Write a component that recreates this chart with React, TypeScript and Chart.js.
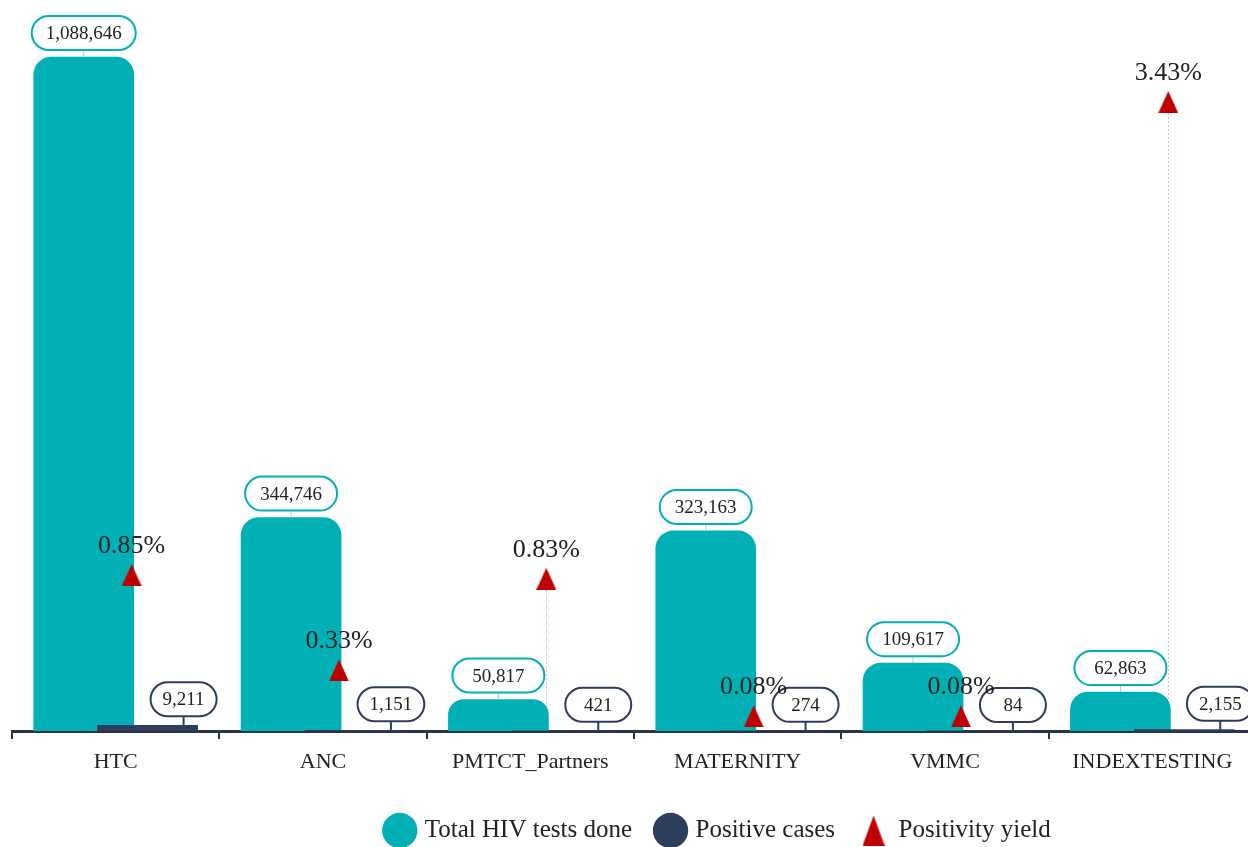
import React, { useEffect, useRef } from "react";
import { Chart, registerables } from "chart.js";

Chart.register(...registerables);

const categories = ["HTC", "ANC", "PMTCT_Partners", "MATERNITY", "VMMC", "INDEXTESTING"];
const totalTests = [1088646, 344746, 50817, 323163, 109617, 62863];
const positiveCases = [9211, 1151, 421, 274, 84, 2155];
const positivityYield = [0.85, 0.33, 0.83, 0.08, 0.08, 3.43];

const TEAL = "#00b0b5";
const NAVY = "#2c3e5c";
const RED = "#c00000";
const AXIS = "#2b3547";
const TEXT = "#222222";
const FONT = '"Liberation Serif", "Times New Roman", serif';

// horizontal placement of each series inside a category (in category units)
const TEAL_SHIFT = -0.154;
const NAVY_SHIFT = 0.154;
const TRI_SHIFT = 0.077;

const CANVAS_W = 1438;
const CANVAS_H = 853;

function makeTriangle(w: number, h: number) {
  const c = document.createElement("canvas");
  c.width = w;
  c.height = h;
  const ctx = c.getContext("2d")!;
  ctx.fillStyle = RED;
  ctx.beginPath();
  ctx.moveTo(w / 2, 0);
  ctx.lineTo(w, h);
  ctx.lineTo(0, h);
  ctx.closePath();
  ctx.fill();
  return c;
}

function roundRect(ctx: CanvasRenderingContext2D, x: number, y: number, w: number, h: number, r: number) {
  ctx.beginPath();
  ctx.moveTo(x + r, y);
  ctx.lineTo(x + w - r, y);
  ctx.arc(x + w - r, y + r, r, -Math.PI / 2, 0);
  ctx.lineTo(x + w, y + h - r);
  ctx.arc(x + w - r, y + h - r, r, 0, Math.PI / 2);
  ctx.lineTo(x + r, y + h);
  ctx.arc(x + r, y + h - r, r, Math.PI / 2, Math.PI);
  ctx.lineTo(x, y + r);
  ctx.arc(x + r, y + r, r, Math.PI, Math.PI * 1.5);
  ctx.closePath();
}

const fmt = (v: number) => v.toLocaleString("en-US");

const labelsPlugin = {
  id: "customLabels",
  beforeDatasetsDraw(chart: any) {
    const ctx = chart.ctx as CanvasRenderingContext2D;
    const meta = chart.getDatasetMeta(2);
    ctx.save();
    ctx.strokeStyle = "#f2b3c3";
    ctx.lineWidth = 1;
    ctx.setLineDash([2, 2]);
    meta.data.forEach((pt: any) => {
      ctx.beginPath();
      ctx.moveTo(Math.round(pt.x) + 0.5, pt.y + 11);
      ctx.lineTo(Math.round(pt.x) + 0.5, chart.chartArea.bottom);
      ctx.stroke();
    });
    ctx.restore();
  },
  afterDatasetsDraw(chart: any) {
    const ctx = chart.ctx as CanvasRenderingContext2D;
    ctx.save();
    ctx.font = `19px ${FONT}`;
    ctx.textAlign = "center";
    ctx.textBaseline = "middle";
    const boxH = 34;

    const drawBox = (
      cx: number,
      barTop: number,
      gap: number,
      text: string,
      color: string,
      stemColor: string,
      stemW: number,
      minW: number,
      pad: number
    ) => {
      const tw = ctx.measureText(text).width;
      const w = Math.max(minW, tw + pad);
      const bottom = barTop - gap;
      const top = bottom - boxH;
      ctx.strokeStyle = stemColor;
      ctx.lineWidth = stemW;
      ctx.beginPath();
      ctx.moveTo(cx, bottom);
      ctx.lineTo(cx, barTop);
      ctx.stroke();
      roundRect(ctx, cx - w / 2, top, w, boxH, boxH / 2);
      ctx.fillStyle = "#ffffff";
      ctx.fill();
      ctx.strokeStyle = color;
      ctx.lineWidth = 2;
      ctx.stroke();
      ctx.fillStyle = TEXT;
      ctx.fillText(text, cx, top + boxH / 2 + 1);
    };

    const tealMeta = chart.getDatasetMeta(0);
    tealMeta.data.forEach((el: any, i: number) => {
      drawBox(el.x, el.y, 7, fmt(totalTests[i]), TEAL, "#8fd7d9", 1, 92, 28);
    });
    const navyMeta = chart.getDatasetMeta(1);
    navyMeta.data.forEach((el: any, i: number) => {
      drawBox(el.x + 36, el.y, 9, fmt(positiveCases[i]), NAVY, NAVY, 2, 66, 24);
    });

    const triMeta = chart.getDatasetMeta(2);
    ctx.font = `26px ${FONT}`;
    ctx.textBaseline = "alphabetic";
    ctx.fillStyle = TEXT;
    triMeta.data.forEach((pt: any, i: number) => {
      ctx.fillText(positivityYield[i].toFixed(2) + "%", pt.x, pt.y - 22);
    });
    ctx.restore();
  },
};

const hiddenSideAxis = (width: number, position: string, max: number) => ({
  display: true,
  position,
  min: 0,
  max,
  grid: { display: false, drawTicks: false },
  border: { display: false },
  ticks: { display: false },
  afterFit: (s: any) => {
    s.width = width;
  },
});

export default function App() {
  const ref = useRef<HTMLCanvasElement | null>(null);

  useEffect(() => {
    if (!ref.current) return;
    Chart.defaults.font.family = FONT;
    const tri = makeTriangle(20, 22);
    const legendTri = makeTriangle(22, 30);

    const chart = new Chart(ref.current, {
      type: "bar",
      data: {
        labels: categories,
        datasets: [
          {
            label: "Total HIV tests done",
            data: totalTests.map((v, i) => ({ x: i + TEAL_SHIFT, y: v })),
            backgroundColor: TEAL,
            borderColor: TEAL,
            borderWidth: 0,
            borderRadius: 18,
            order: 2,
            xAxisID: "xp",
            yAxisID: "y",
            grouped: false,
            barThickness: 100,
          } as any,
          {
            label: "Positive cases",
            data: positiveCases.map((v, i) => ({ x: i + NAVY_SHIFT, y: v })),
            backgroundColor: NAVY,
            borderColor: NAVY,
            borderWidth: 0,
            borderRadius: 0,
            order: 1,
            xAxisID: "xp",
            yAxisID: "y",
            grouped: false,
            barThickness: 100,
          } as any,
          {
            type: "line",
            label: "Positivity yield",
            data: positivityYield.map((v, i) => ({ x: i + TRI_SHIFT, y: v })),
            xAxisID: "xp",
            yAxisID: "y2",
            showLine: false,
            pointStyle: tri,
            pointRadius: 11,
            pointHoverRadius: 11,
            backgroundColor: RED,
            borderColor: RED,
            order: 0,
          } as any,
        ],
      },
      options: {
        responsive: false,
        animation: false,
        devicePixelRatio: 1,
        layout: { padding: 0 },
        scales: {
          x: {
            type: "category",
            offset: true,
            grid: {
              display: true,
              drawOnChartArea: false,
              drawTicks: true,
              tickLength: 8,
              color: AXIS,
              lineWidth: 2,
              offset: true,
            },
            border: { display: true, color: AXIS, width: 3 },
            ticks: {
              color: TEXT,
              font: { size: 22, family: FONT },
              padding: 10,
              maxRotation: 0,
              autoSkip: false,
            },
            afterFit: (s: any) => {
              s.height = 61;
            },
          },
          xp: {
            type: "linear",
            display: false,
            offset: false,
            bounds: "data",
            grace: 0,
            min: -0.5,
            max: 5.5,
          },
          y: hiddenSideAxis(10, "left", 1161330),
          y2: hiddenSideAxis(CANVAS_W - 1256, "right", 3.921),
        } as any,
        plugins: {
          legend: {
            position: "bottom",
            labels: {
              usePointStyle: true,
              color: TEXT,
              font: { size: 25, family: FONT },
              padding: 26,
              sort: (a: any, b: any) => a.datasetIndex - b.datasetIndex,
              generateLabels: (c: any) => {
                const items = (Chart.defaults.plugins.legend.labels as any).generateLabels(c);
                items.forEach((it: any) => {
                  it.lineWidth = 0;
                  if (it.datasetIndex === 2) it.pointStyle = legendTri;
                });
                return items;
              },
            },
          },
          tooltip: { enabled: false },
        },
      },
      plugins: [labelsPlugin],
    });
    return () => chart.destroy();
  }, []);

  return (
    <div
      style={{
        position: "fixed",
        left: 0,
        top: 0,
        width: 1248,
        height: 847,
        overflow: "hidden",
        background: "#ffffff",
      }}
    >
      <canvas
        ref={ref}
        width={CANVAS_W}
        height={CANVAS_H}
        style={{ display: "block", width: CANVAS_W, height: CANVAS_H }}
      />
    </div>
  );
}
